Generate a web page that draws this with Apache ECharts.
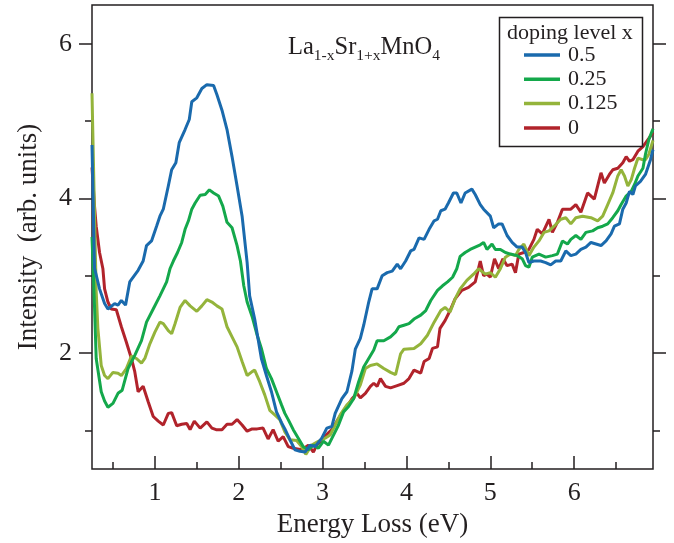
<!DOCTYPE html>
<html>
<head>
<meta charset="utf-8">
<script src="https://cdn.jsdelivr.net/npm/echarts@6/dist/echarts.min.js"></script>
<style>
  html, body { margin: 0; padding: 0; background: #fff; }
  #chart { width: 674px; height: 543px; }
</style>
</head>
<body>
<div id="chart"></div>
<script>
  // doping levels, in legend order
  const levels = ['0.5', '0.25', '0.125', '0'];
  const colors = ['#1a6aad', '#14a84b', '#94b43b', '#b1232b'];

  // [energy loss (eV), intensity]
  const dope050 = [[0.25,4.69],[0.28,3.1],[0.34,2.83],[0.40,2.64],[0.44,2.57],[0.52,2.64],[0.56,2.62],[0.60,2.68],[0.65,2.62],[0.70,2.92],[0.80,3.07],[0.86,3.19],[0.90,3.39],[0.96,3.45],[1.02,3.64],[1.06,3.77],[1.10,3.86],[1.16,4.16],[1.20,4.37],[1.25,4.46],[1.29,4.72],[1.36,4.89],[1.41,5.02],[1.44,5.25],[1.50,5.30],[1.56,5.42],[1.62,5.47],[1.70,5.46],[1.74,5.34],[1.80,5.14],[1.86,4.89],[1.92,4.54],[1.98,4.16],[2.04,3.77],[2.10,3.17],[2.13,2.74],[2.19,2.44],[2.27,1.93],[2.33,1.71],[2.39,1.50],[2.45,1.24],[2.51,1.10],[2.55,1.02],[2.61,0.88],[2.67,0.75],[2.73,0.73],[2.79,0.72],[2.85,0.81],[2.91,0.79],[2.99,0.90],[3.05,1.03],[3.11,1.05],[3.15,1.22],[3.23,1.41],[3.29,1.50],[3.35,1.77],[3.39,2.05],[3.45,2.19],[3.49,2.36],[3.55,2.66],[3.59,2.83],[3.65,2.83],[3.71,3.00],[3.77,3.04],[3.83,3.06],[3.89,3.15],[3.93,3.09],[3.99,3.19],[4.05,3.32],[4.09,3.34],[4.15,3.49],[4.21,3.47],[4.27,3.60],[4.33,3.71],[4.37,3.73],[4.41,3.84],[4.46,3.86],[4.50,3.94],[4.56,4.07],[4.60,4.07],[4.65,3.94],[4.70,4.07],[4.78,4.12],[4.82,4.05],[4.88,3.92],[4.92,3.86],[5.00,3.77],[5.04,3.62],[5.10,3.67],[5.14,3.67],[5.20,3.52],[5.26,3.43],[5.32,3.37],[5.38,3.37],[5.42,3.30],[5.46,3.17],[5.52,3.19],[5.60,3.19],[5.66,3.17],[5.72,3.14],[5.78,3.19],[5.84,3.19],[5.90,3.32],[5.96,3.26],[6.02,3.28],[6.08,3.34],[6.14,3.37],[6.20,3.43],[6.26,3.41],[6.32,3.39],[6.38,3.45],[6.44,3.54],[6.48,3.64],[6.54,3.67],[6.58,3.86],[6.62,3.94],[6.66,4.09],[6.70,4.05],[6.73,4.16],[6.79,4.22],[6.85,4.31],[6.91,4.50],[6.94,4.63]];
  const dope025 = [[0.25,3.5],[0.28,2.6],[0.30,1.93],[0.36,1.50],[0.40,1.38],[0.44,1.30],[0.50,1.35],[0.56,1.48],[0.61,1.52],[0.68,1.80],[0.76,1.97],[0.84,2.16],[0.90,2.40],[0.98,2.57],[1.06,2.74],[1.14,2.92],[1.18,3.09],[1.22,3.19],[1.27,3.30],[1.32,3.43],[1.36,3.60],[1.40,3.71],[1.44,3.86],[1.48,3.94],[1.54,4.04],[1.60,4.05],[1.65,4.11],[1.70,4.07],[1.76,4.03],[1.81,3.90],[1.86,3.69],[1.92,3.62],[1.98,3.39],[2.02,3.19],[2.06,2.87],[2.10,2.66],[2.16,2.47],[2.22,2.23],[2.27,2.06],[2.33,1.80],[2.39,1.67],[2.45,1.50],[2.51,1.33],[2.55,1.22],[2.59,1.14],[2.65,1.01],[2.71,0.90],[2.77,0.79],[2.83,0.75],[2.89,0.81],[2.95,0.77],[3.01,0.86],[3.07,0.81],[3.13,0.94],[3.19,1.07],[3.25,1.24],[3.31,1.31],[3.37,1.41],[3.43,1.63],[3.49,1.82],[3.55,1.93],[3.61,2.04],[3.65,2.16],[3.73,2.16],[3.81,2.21],[3.87,2.27],[3.91,2.34],[3.97,2.36],[4.03,2.38],[4.09,2.44],[4.17,2.49],[4.23,2.55],[4.29,2.68],[4.37,2.81],[4.43,2.87],[4.49,2.92],[4.55,2.98],[4.60,3.09],[4.64,3.25],[4.70,3.30],[4.76,3.34],[4.82,3.37],[4.88,3.40],[4.92,3.43],[4.96,3.34],[5.02,3.41],[5.06,3.34],[5.12,3.34],[5.18,3.30],[5.24,3.28],[5.32,3.26],[5.38,3.22],[5.42,3.13],[5.46,3.11],[5.50,3.24],[5.58,3.28],[5.66,3.24],[5.74,3.26],[5.80,3.28],[5.86,3.45],[5.92,3.41],[5.96,3.47],[6.02,3.52],[6.08,3.47],[6.14,3.56],[6.22,3.58],[6.28,3.62],[6.34,3.64],[6.40,3.67],[6.46,3.75],[6.52,3.84],[6.56,3.92],[6.62,4.03],[6.68,4.09],[6.72,4.18],[6.76,4.29],[6.82,4.39],[6.85,4.57],[6.89,4.76],[6.94,4.90]];
  const dope0125 = [[0.25,5.36],[0.28,3.8],[0.30,2.8],[0.32,2.32],[0.36,1.84],[0.40,1.71],[0.44,1.67],[0.50,1.75],[0.56,1.74],[0.60,1.71],[0.66,1.80],[0.72,1.96],[0.78,1.93],[0.84,1.87],[0.88,1.93],[0.94,2.12],[1.00,2.27],[1.06,2.40],[1.10,2.38],[1.16,2.29],[1.20,2.25],[1.24,2.38],[1.30,2.59],[1.36,2.68],[1.42,2.61],[1.50,2.54],[1.56,2.61],[1.62,2.69],[1.68,2.66],[1.74,2.61],[1.80,2.57],[1.86,2.34],[1.92,2.21],[1.98,2.08],[2.04,1.89],[2.10,1.71],[2.16,1.76],[2.19,1.78],[2.25,1.63],[2.31,1.46],[2.37,1.26],[2.43,1.20],[2.49,1.14],[2.55,0.98],[2.61,0.88],[2.69,0.87],[2.75,0.79],[2.80,0.69],[2.87,0.81],[2.95,0.86],[3.03,0.90],[3.09,0.94],[3.15,1.07],[3.21,1.20],[3.29,1.33],[3.37,1.41],[3.45,1.59],[3.51,1.80],[3.57,1.84],[3.65,1.86],[3.73,1.80],[3.81,1.75],[3.87,1.72],[3.93,1.99],[3.97,2.05],[4.09,2.06],[4.17,2.12],[4.25,2.23],[4.33,2.40],[4.41,2.55],[4.46,2.59],[4.52,2.53],[4.58,2.70],[4.64,2.83],[4.72,2.94],[4.80,3.02],[4.86,3.09],[4.94,3.02],[5.00,3.04],[5.06,2.98],[5.12,3.09],[5.18,3.24],[5.24,3.28],[5.30,3.26],[5.34,3.34],[5.40,3.41],[5.46,3.26],[5.52,3.37],[5.58,3.45],[5.64,3.56],[5.70,3.58],[5.76,3.64],[5.84,3.73],[5.90,3.75],[5.96,3.67],[6.02,3.75],[6.10,3.77],[6.20,3.75],[6.28,3.71],[6.34,3.77],[6.40,3.92],[6.46,4.07],[6.52,4.29],[6.56,4.37],[6.60,4.29],[6.64,4.16],[6.68,4.24],[6.72,4.39],[6.76,4.52],[6.82,4.50],[6.85,4.50],[6.89,4.57],[6.94,4.75]];
  const dope000 = [[0.25,4.4],[0.28,3.9],[0.30,3.64],[0.34,3.30],[0.38,3.09],[0.40,2.83],[0.44,2.66],[0.48,2.57],[0.54,2.56],[0.60,2.34],[0.66,2.14],[0.72,1.93],[0.76,1.76],[0.80,1.50],[0.86,1.57],[0.92,1.37],[0.98,1.18],[1.04,1.12],[1.10,1.07],[1.16,1.22],[1.20,1.23],[1.26,1.06],[1.32,1.08],[1.38,1.09],[1.42,1.01],[1.47,1.12],[1.54,1.03],[1.62,1.11],[1.68,1.03],[1.73,1.01],[1.80,1.01],[1.86,1.08],[1.92,1.08],[1.98,1.14],[2.04,1.07],[2.10,0.99],[2.16,1.02],[2.22,1.02],[2.29,1.03],[2.35,0.89],[2.41,1.01],[2.47,0.86],[2.53,0.92],[2.59,0.79],[2.65,0.77],[2.75,0.75],[2.83,0.81],[2.89,0.72],[2.93,0.81],[2.99,0.88],[3.05,0.95],[3.11,1.01],[3.17,1.12],[3.23,1.22],[3.29,1.31],[3.35,1.41],[3.41,1.48],[3.45,1.42],[3.51,1.48],[3.57,1.57],[3.61,1.61],[3.65,1.57],[3.69,1.67],[3.75,1.57],[3.81,1.55],[3.89,1.58],[3.97,1.61],[4.03,1.67],[4.09,1.78],[4.17,1.74],[4.21,1.89],[4.27,1.93],[4.31,2.06],[4.37,2.08],[4.40,2.32],[4.46,2.42],[4.52,2.55],[4.58,2.70],[4.66,2.81],[4.74,2.85],[4.82,2.92],[4.88,3.19],[4.92,3.00],[4.96,3.02],[5.00,2.98],[5.05,3.22],[5.10,3.09],[5.15,3.22],[5.20,3.13],[5.26,3.15],[5.30,3.04],[5.34,3.28],[5.40,3.30],[5.46,3.34],[5.52,3.47],[5.56,3.60],[5.62,3.54],[5.70,3.73],[5.74,3.56],[5.80,3.69],[5.86,3.86],[5.96,3.86],[6.02,3.92],[6.08,3.82],[6.16,4.07],[6.24,3.99],[6.32,4.33],[6.36,4.20],[6.42,4.31],[6.46,4.37],[6.52,4.39],[6.58,4.46],[6.62,4.54],[6.66,4.48],[6.70,4.50],[6.76,4.61],[6.82,4.67],[6.88,4.76],[6.94,4.85]];

  // tick positions
  const xMajor = [1, 2, 3, 4, 5, 6];
  const xMinor = [0.5, 1.5, 2.5, 3.5, 4.5, 5.5, 6.5];
  const yMajor = [2, 4, 6];
  const yMinor = [1, 3, 5];

  const ink = '#231f20';
  const serif = '"Liberation Serif", "DejaVu Serif", serif';
  const curves = [dope050, dope025, dope0125, dope000];

  const tick = (values, len, inside) => ({
    show: true, inside: inside, length: len, customValues: values,
    lineStyle: {color: ink, width: 1.5}
  });
  const bare = {axisLine: {show: false}, splitLine: {show: false}};

  const myChart = echarts.init(document.getElementById('chart'));
  myChart.setOption({
    animation: false,
    grid: {left: 92, right: 21, top: 5, bottom: 72, show: true, borderColor: ink, borderWidth: 1.5},
    xAxis: [
      {
        type: 'value', min: 0.25, max: 6.94, position: 'bottom', ...bare,
        axisTick: tick(xMajor, 13, true),
        axisLabel: {customValues: xMajor, margin: 11, fontSize: 26, fontFamily: serif, color: ink},
        name: 'Energy Loss (eV)', nameLocation: 'middle', nameGap: 35,
        nameTextStyle: {fontSize: 27, fontFamily: serif, color: ink}
      },
      {
        type: 'value', min: 0.25, max: 6.94, position: 'bottom', ...bare,
        axisTick: tick(xMinor, 7, true), axisLabel: {show: false}
      }
    ],
    yAxis: [
      {
        type: 'value', min: 0.5, max: 6.5, position: 'left', ...bare,
        axisTick: tick(yMajor, 13, false),
        axisLabel: {customValues: yMajor, margin: 20, fontSize: 26, fontFamily: serif, color: ink},
        name: 'Intensity  (arb. units)', nameLocation: 'middle', nameGap: 50,
        nameTextStyle: {fontSize: 27, fontFamily: serif, color: ink}
      },
      {type: 'value', min: 0.5, max: 6.5, position: 'left', ...bare, axisTick: tick(yMinor, 7, false), axisLabel: {show: false}},
      {type: 'value', min: 0.5, max: 6.5, position: 'right', ...bare, axisTick: tick(yMajor, 13, false), axisLabel: {show: false}},
      {type: 'value', min: 0.5, max: 6.5, position: 'right', ...bare, axisTick: tick(yMinor, 7, false), axisLabel: {show: false}}
    ],
    legend: {
      data: levels,
      orient: 'vertical',
      left: 519, top: 38,
      icon: 'rect',
      itemWidth: 36, itemHeight: 3.5, itemGap: 0.3,
      textStyle: {fontSize: 22, fontFamily: serif, color: ink, lineHeight: 24, padding: [0, 0, 0, 3]}
    },
    graphic: [
      {
        type: 'rect', left: 497, top: 15, z: 10,
        shape: {width: 143, height: 129},
        style: {fill: 'none', stroke: ink, lineWidth: 1.5}
      },
      {
        type: 'text', left: 507, top: 22, z: 10,
        style: {text: 'doping level x', font: '22px ' + serif, fill: ink}
      },
      {
        type: 'text', left: 288, top: 35, z: 10,
        style: {
          text: '{m|La}{s|1-x}{m|Sr}{s|1+x}{m|MnO}{s|4}',
          rich: {
            m: {fontSize: 24.5, fontFamily: serif, fill: ink, verticalAlign: 'bottom', padding: [0, 0, 4, 0]},
            s: {fontSize: 15.5, fontFamily: serif, fill: ink, verticalAlign: 'bottom'}
          }
        }
      }
    ],
    series: levels.map((name, i) => ({
      name: name,
      type: 'line',
      data: curves[i],
      symbol: 'none',
      z: 4 - i,
      color: colors[i],
      lineStyle: {color: colors[i], width: 3}
    })).reverse()
  });
</script>
</body>
</html>
